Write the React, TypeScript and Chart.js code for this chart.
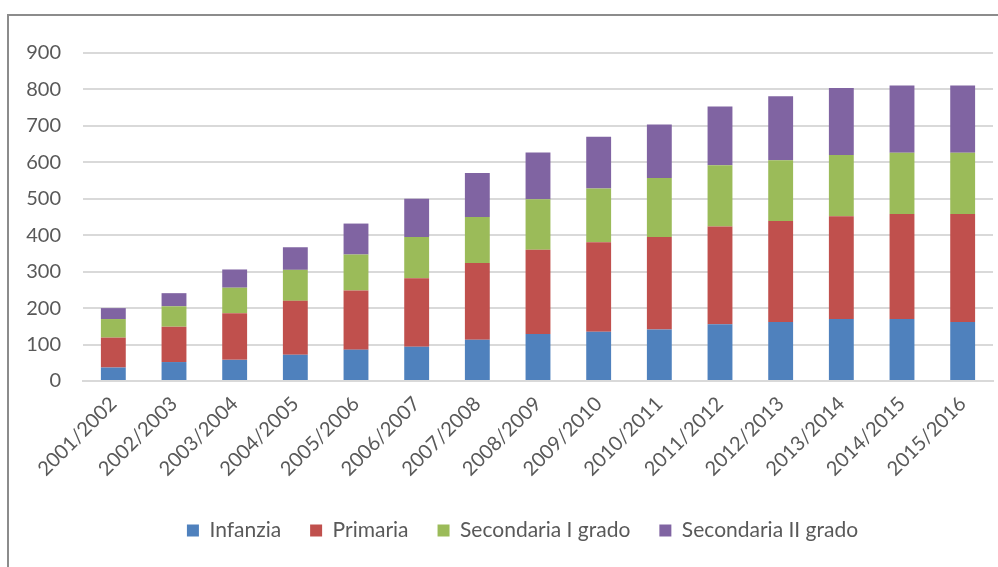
import React, { useEffect, useRef } from "react";
import { Chart, registerables } from "chart.js";

Chart.register(...registerables);

const categories = [
  "2001/2002", "2002/2003", "2003/2004", "2004/2005", "2005/2006",
  "2006/2007", "2007/2008", "2008/2009", "2009/2010", "2010/2011",
  "2011/2012", "2012/2013", "2013/2014", "2014/2015", "2015/2016",
];
const infanzia = [37, 52, 58, 72, 86, 94, 113, 129, 135, 141, 156, 162, 170, 170, 162];
const primaria = [82, 97, 128, 148, 162, 188, 211, 231, 246, 254, 268, 277, 282, 288, 296];
const secondariaI = [51, 56, 70, 85, 99, 113, 126, 139, 147, 162, 168, 167, 168, 168, 168];
const secondariaII = [30, 36, 50, 62, 85, 105, 121, 128, 142, 147, 161, 175, 184, 185, 185];
const yTicks = [0, 100, 200, 300, 400, 500, 600, 700, 800, 900];

const FONT = "Lato, 'Open Sans', sans-serif";
const TEXT = "#595959";

const legendShift = {
  id: "legendShift",
  afterUpdate(chart: any) {
    const lg = chart.legend;
    if (lg) {
      lg.left += 21;
      lg.right += 21;
    }
  },
};

export default function App() {
  const ref = useRef<HTMLCanvasElement | null>(null);
  useEffect(() => {
    if (!ref.current) return;
    const chart = new Chart(ref.current, {
      type: "bar",
      data: {
        labels: categories,
        datasets: [
          { label: "Infanzia", data: infanzia, backgroundColor: "#4F81BD" },
          { label: "Primaria", data: primaria, backgroundColor: "#C0504D" },
          { label: "Secondaria I grado", data: secondariaI, backgroundColor: "#9BBB59" },
          { label: "Secondaria II grado", data: secondariaII, backgroundColor: "#8064A2" },
        ],
      },
      plugins: [legendShift],
      options: {
        animation: false,
        responsive: false,
        maintainAspectRatio: false,
        layout: { padding: { top: 53, left: 10, right: 5, bottom: 16 } },
        datasets: { bar: { barPercentage: 0.41, categoryPercentage: 1 } },
        plugins: {
          legend: {
            position: "bottom",
            labels: {
              boxWidth: 12,
              boxHeight: 12,
              padding: 29,
              color: TEXT,
              font: { family: FONT, size: 21 },
            },
          },
          tooltip: { enabled: false },
        },
        scales: {
          x: {
            stacked: true,
            grid: { display: false },
            border: { display: true, color: "#d9d9d9", width: 2 },
            ticks: {
              color: TEXT,
              font: { family: FONT, size: 20 },
              minRotation: 45,
              maxRotation: 45,
              autoSkip: false,
            },
            afterFit: (s: any) => { s.height = 110; },
          },
          y: {
            stacked: true,
            min: 0,
            max: 900,
            afterBuildTicks: (s: any) => { s.ticks = yTicks.map((v) => ({ value: v })); },
            grid: { color: "#d9d9d9", lineWidth: 2, drawTicks: false },
            border: { display: false },
            ticks: {
              color: TEXT,
              font: { family: FONT, size: 20 },
              padding: 22,
            },
            afterFit: (s: any) => { s.width = 73; },
          },
        },
      },
    });
    return () => chart.destroy();
  }, []);
  return (
    <div style={{ position: "fixed", left: 0, top: 0, width: 998, height: 567, background: "#fff" }}>
      <canvas ref={ref} width={998} height={567} style={{ position: "absolute", left: 0, top: 0 }} />
      <div style={{ position: "absolute", left: 7, top: 14, width: 991, height: 553, borderTop: "2px solid #8c8c8c", borderLeft: "2px solid #8c8c8c", pointerEvents: "none" }} />
    </div>
  );
}
